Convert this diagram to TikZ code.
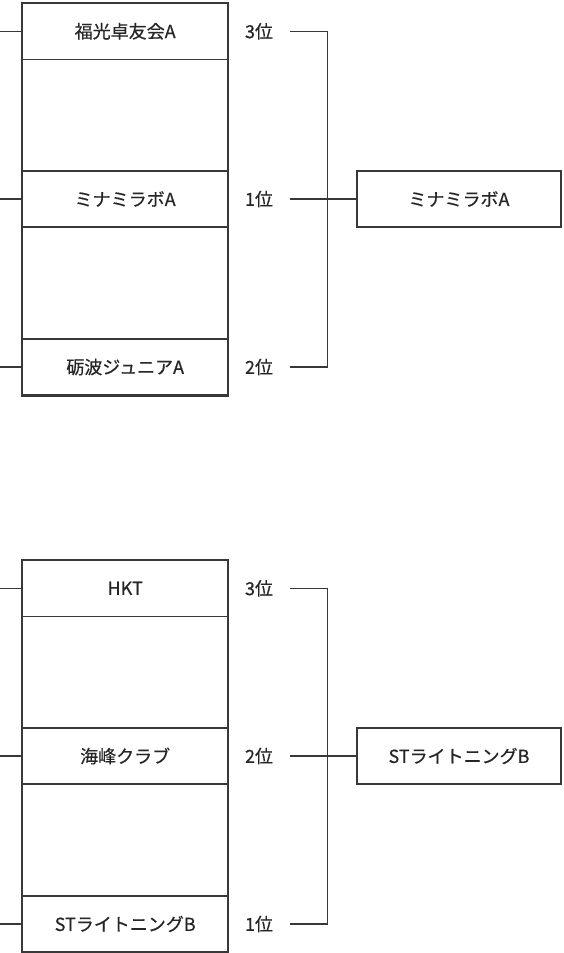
\documentclass[tikz,border=0pt]{standalone}
\usepackage{fontspec}
\setmainfont[BoldFont={Noto Sans CJK JP},BoldFeatures={FakeBold=0.5}]{Noto Sans CJK JP}
\begin{document}
\begin{tikzpicture}[x=1pt,y=-1pt,
  line/.style={draw=black!78,line width=1.1pt},
  outerline/.style={draw=black!78,line width=2.4pt},
  txt/.style={font=\fontsize{18}{18}\selectfont\bfseries,text=black!85},
  cell/.style={line,txt,rectangle,minimum width=205pt,minimum height=56pt,inner sep=0pt},
  winbox/.style={line,txt,rectangle,minimum width=204pt,minimum height=56pt,inner sep=0pt},
  rank/.style={txt,inner sep=0pt}]
\useasboundingbox (0,0) rectangle (563,953);
\fill[white] (0,0) rectangle (563,953);
% ---- group 1 ----
\begin{scope}
\node[cell] (a1) at (125.2,31.3) {福光卓友会A};
\node[cell] (a2) at (125.2,199) {ミナミラボA};
\node[cell] (a3) at (125.2,367) {砺波ジュニアA};
\draw[outerline] (a1.north west) rectangle (a3.south east);
\coordinate (as1) at (0,31.3);
\coordinate (as2) at (0,199);
\coordinate (as3) at (0,367);
\draw[line] (as1) -- (a1.west);
\draw[line] (as2) -- (a2.west);
\draw[line] (as3) -- (a3.west);
\node[rank] (ar1) at (259,31.3) {3位};
\node[rank] (ar2) at (259,199) {1位};
\node[rank] (ar3) at (259,367) {2位};
\coordinate (ab1) at (290,31.3);
\coordinate (ab2) at (290,199);
\coordinate (ab3) at (290,367);
\coordinate (av1) at (327.5,31.3);
\node[winbox] (aw) at (459,199) {ミナミラボA};
\draw[line] (ab1) -- (av1) |- (ab3);
\draw[line] (ab2) -- (aw.west);
\end{scope}
% ---- group 2 ----
\begin{scope}[yshift=-557pt]
\node[cell] (b1) at (125.2,31.3) {HKT};
\node[cell] (b2) at (125.2,199) {海峰クラブ};
\node[cell] (b3) at (125.2,367) {STライトニングB};
\draw[outerline] (b1.north west) rectangle (b3.south east);
\coordinate (bs1) at (0,31.3);
\coordinate (bs2) at (0,199);
\coordinate (bs3) at (0,367);
\draw[line] (bs1) -- (b1.west);
\draw[line] (bs2) -- (b2.west);
\draw[line] (bs3) -- (b3.west);
\node[rank] (br1) at (259,31.3) {3位};
\node[rank] (br2) at (259,199) {2位};
\node[rank] (br3) at (259,367) {1位};
\coordinate (bb1) at (290,31.3);
\coordinate (bb2) at (290,199);
\coordinate (bb3) at (290,367);
\coordinate (bv1) at (327.5,31.3);
\node[winbox] (bw) at (459,199) {STライトニングB};
\draw[line] (bb1) -- (bv1) |- (bb3);
\draw[line] (bb2) -- (bw.west);
\end{scope}
\end{tikzpicture}
\end{document}
